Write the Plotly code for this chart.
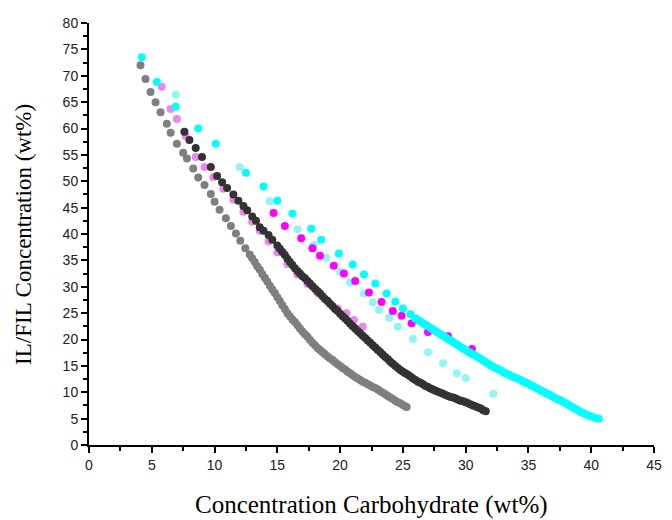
import plotly.graph_objects as go

# Gray series (lowest curve)
gray_x = [4.1, 4.5, 4.9, 5.3, 5.7, 6.2, 6.5, 7.0, 7.5, 7.8, 8.3, 8.7, 9.2, 9.7, 10.0, 10.4, 10.9, 11.3, 11.7,
          12.05, 12.45, 12.8, 13.0, 13.2, 13.4, 13.6, 13.8, 14.0, 14.2, 14.4, 14.6, 14.8, 15.0, 15.2, 15.4, 15.6,
          15.8, 16.0, 16.2, 16.4, 16.6, 16.8, 17.0, 17.2, 17.4, 17.6, 17.8, 18.0, 18.2, 18.4, 18.6, 18.8, 19.0,
          19.2, 19.4, 19.6, 19.8, 20.0, 20.2, 20.4, 20.6, 20.8, 21.0, 21.2, 21.4, 21.6, 21.8, 22.0, 22.2, 22.4,
          22.6, 22.8, 23.0, 23.2, 23.4, 23.6, 23.8, 24.0, 24.2, 24.4, 24.6, 24.8, 25.0, 25.2, 25.3]
gray_y = [72.0, 69.4, 66.9, 65.0, 63.1, 60.9, 59.2, 57.1, 55.4, 54.3, 52.4, 50.7, 49.3, 47.6, 46.1, 44.6, 43.0, 41.5, 40.1,
          38.7, 37.3, 36.1, 35.4, 34.7, 33.9, 33.2, 32.4, 31.7, 31.0, 30.2, 29.5, 28.8, 28.0, 27.3, 26.5, 25.8,
          25.0, 24.4, 23.8, 23.3, 22.7, 22.1, 21.5, 21.0, 20.5, 19.9, 19.4, 18.9, 18.4, 18.0, 17.6, 17.2, 16.8,
          16.4, 16.1, 15.7, 15.3, 15.0, 14.6, 14.3, 13.9, 13.6, 13.2, 12.9, 12.6, 12.3, 12.0, 11.8, 11.5, 11.3,
          11.0, 10.8, 10.5, 10.2, 9.9, 9.6, 9.3, 9.0, 8.7, 8.4, 8.1, 7.9, 7.6, 7.3, 7.2]

# Dark gray series
dark_x = [7.6, 8.0, 8.5, 9.0, 9.7, 10.2, 10.6, 11.0, 11.5, 11.9, 12.3, 12.6, 13.0, 13.3, 13.6, 13.9, 14.3, 14.6,
          15.0, 15.2, 15.4, 15.6, 15.8, 16.0, 16.2, 16.4, 16.6, 16.8, 17.0, 17.2, 17.4, 17.6, 17.8, 18.0, 18.2,
          18.4, 18.6, 18.8, 19.0, 19.2, 19.4, 19.6, 19.8, 20.0, 20.2, 20.4, 20.6, 20.8, 21.0, 21.2, 21.4, 21.6,
          21.8, 22.0, 22.2, 22.4, 22.6, 22.8, 23.0, 23.2, 23.4, 23.6, 23.8, 24.0, 24.2, 24.4, 24.6, 24.8, 25.0,
          25.2, 25.4, 25.6, 25.8, 26.0, 26.2, 26.4, 26.6, 26.8, 27.0, 27.2, 27.4, 27.6, 27.8, 28.0, 28.2, 28.4,
          28.6, 28.8, 29.0, 29.2, 29.4, 29.6, 29.8, 30.0, 30.2, 30.4, 30.6, 30.8, 31.0, 31.2, 31.4, 31.6]
dark_y = [59.4, 57.8, 56.3, 54.6, 52.7, 51.0, 49.8, 48.7, 47.5, 46.3, 45.3, 44.5, 43.3, 42.5, 41.3, 40.6, 39.8, 38.9,
          37.8, 37.2, 36.6, 36.0, 35.3, 34.7, 34.1, 33.5, 33.0, 32.5, 32.0, 31.6, 31.1, 30.6, 30.1, 29.6, 29.2,
          28.7, 28.2, 27.7, 27.3, 26.8, 26.3, 25.8, 25.4, 24.9, 24.4, 24.0, 23.5, 23.0, 22.5, 22.1, 21.6, 21.2,
          20.7, 20.3, 19.8, 19.4, 18.9, 18.5, 18.0, 17.6, 17.1, 16.7, 16.3, 15.8, 15.4, 15.0, 14.6, 14.2, 13.9,
          13.6, 13.3, 13.0, 12.6, 12.3, 12.0, 11.8, 11.5, 11.2, 11.0, 10.7, 10.5, 10.3, 10.1, 9.9, 9.7, 9.5,
          9.3, 9.1, 9.0, 8.8, 8.6, 8.4, 8.3, 8.1, 7.9, 7.7, 7.5, 7.3, 7.1, 6.9, 6.6, 6.4]

# Light magenta series
lmag_x = [5.8, 6.5, 7.0, 7.7, 8.5, 9.2, 9.9, 10.7, 11.5, 12.3, 13.0, 13.6, 14.3, 15.0, 15.8, 16.6, 17.4, 18.2,
          19.0, 19.8, 20.5, 21.1, 21.8]
lmag_y = [67.9, 63.7, 61.8, 58.6, 54.6, 52.7, 50.8, 48.6, 46.5, 44.2, 42.3, 40.6, 38.6, 36.5, 34.3, 32.3, 30.5, 28.8,
          27.2, 25.9, 25.0, 23.7, 22.4]

# Magenta series
mag_x = [14.7, 15.6, 16.9, 17.8, 18.4, 19.5, 20.3, 21.2, 22.3, 23.3, 24.2, 24.9, 25.7, 27.0, 28.6, 30.5]
mag_y = [44.0, 41.5, 39.2, 37.3, 35.9, 34.0, 32.5, 31.1, 28.9, 27.1, 25.4, 24.5, 23.1, 21.4, 20.6, 18.2]

# Cyan series
cyan_x = [4.2, 5.4, 6.9, 8.7, 10.1, 12.5, 13.9, 15.0, 16.2, 17.7, 18.5, 19.9, 21.0, 21.9, 22.8, 23.7, 24.4, 25.0, 25.6,
          26.0, 26.2, 26.4, 26.6, 26.8, 27.0, 27.2, 27.4, 27.6, 27.8, 28.0, 28.2, 28.4, 28.6, 28.8, 29.0, 29.2,
          29.4, 29.6, 29.8, 30.0, 30.2, 30.4, 30.6, 30.8, 31.0, 31.2, 31.4, 31.6, 31.8, 32.0, 32.2, 32.4, 32.6,
          32.8, 33.0, 33.2, 33.4, 33.6, 33.8, 34.0, 34.2, 34.4, 34.6, 34.8, 35.0, 35.2, 35.4, 35.6, 35.8, 36.0,
          36.2, 36.4, 36.6, 36.8, 37.0, 37.2, 37.4, 37.6, 37.8, 38.0, 38.2, 38.4, 38.6, 38.8, 39.0, 39.2, 39.4,
          39.7, 40.0, 40.3, 40.6]
cyan_y = [73.5, 68.8, 64.1, 60.0, 57.1, 51.6, 49.0, 46.3, 43.9, 41.0, 38.9, 36.3, 34.2, 32.3, 30.6, 28.7, 27.2, 25.9, 24.8,
          24.0, 23.7, 23.4, 23.1, 22.8, 22.5, 22.2, 21.9, 21.6, 21.3, 21.0, 20.7, 20.4, 20.1, 19.8, 19.5, 19.2,
          18.9, 18.6, 18.3, 18.0, 17.7, 17.4, 17.2, 16.9, 16.6, 16.3, 16.0, 15.7, 15.4, 15.1, 14.8, 14.6, 14.3,
          14.1, 13.8, 13.6, 13.4, 13.1, 12.9, 12.7, 12.5, 12.3, 12.0, 11.8, 11.6, 11.3, 11.1, 10.8, 10.6, 10.3,
          10.1, 9.8, 9.6, 9.3, 9.1, 8.8, 8.6, 8.4, 8.1, 7.9, 7.6, 7.3, 7.0, 6.8, 6.5, 6.2, 6.0,
          5.7, 5.4, 5.1, 5.0]

# Light cyan series
lcyan_x = [6.9, 12.0, 14.4, 16.6, 17.9, 18.9, 20.0, 20.8, 21.9, 22.6, 23.1, 23.9, 24.6, 25.8, 27.0, 28.2, 29.3, 30.0, 32.2]
lcyan_y = [66.4, 52.7, 46.2, 40.9, 37.9, 35.5, 32.9, 30.8, 28.7, 27.0, 25.6, 24.1, 22.4, 20.1, 17.6, 15.5, 13.6, 12.7, 9.7]

x_ticks = [0, 5, 10, 15, 20, 25, 30, 35, 40, 45]
y_ticks = [0, 5, 10, 15, 20, 25, 30, 35, 40, 45, 50, 55, 60, 65, 70, 75, 80]

fig = go.Figure()

def add(xs, ys, color, size=8):
    fig.add_trace(go.Scatter(x=xs, y=ys, mode="markers",
                             marker=dict(color=color, size=size, line=dict(width=0)),
                             showlegend=False, hoverinfo="x+y"))

add(lcyan_x, lcyan_y, "#8ff5f5")
add(lmag_x, lmag_y, "#ef85ef")
add(gray_x, gray_y, "#7f7f7f")
add(dark_x, dark_y, "#333333")
add(mag_x, mag_y, "#ff00ff")
add(cyan_x, cyan_y, "#00ffff")

tick_font = dict(family="Liberation Sans Narrow, Liberation Sans, Arial", size=14, color="#222222")
axis_common = dict(
    showline=True, linecolor="black", linewidth=2, mirror=False,
    showgrid=False, zeroline=False,
    ticks="outside", ticklen=6, tickwidth=2, tickcolor="black",
    tickfont=tick_font,
)

fig.update_xaxes(range=[0, 45], tickvals=x_ticks, ticktext=[str(v) for v in x_ticks],
                 minor=dict(dtick=2.5, tick0=0, ticks="outside", ticklen=4, tickwidth=2, tickcolor="black"),
                 **axis_common)
fig.update_yaxes(range=[0, 80], tickvals=y_ticks, ticktext=[str(v) for v in y_ticks],
                 minor=dict(dtick=2.5, tick0=0, ticks="outside", ticklen=4, tickwidth=2, tickcolor="black"),
                 **axis_common)

fig.add_annotation(text="Concentration Carbohydrate (wt%)", xref="paper", yref="paper",
                   x=0.5, y=-0.142, xanchor="center", yanchor="middle", showarrow=False,
                   font=dict(family="Liberation Serif, Times New Roman", size=25, color="black"))
fig.add_annotation(text="IL/FIL Concentration (wt%)", xref="paper", yref="paper",
                   x=-0.117, y=0.5, xanchor="center", yanchor="middle", showarrow=False, textangle=-90,
                   font=dict(family="Liberation Serif, Times New Roman", size=23, color="black"))

fig.update_layout(
    width=672, height=520,
    margin=dict(l=89, r=10, t=23, b=75),
    paper_bgcolor="white", plot_bgcolor="white",
)

fig.write_html("out.html")
